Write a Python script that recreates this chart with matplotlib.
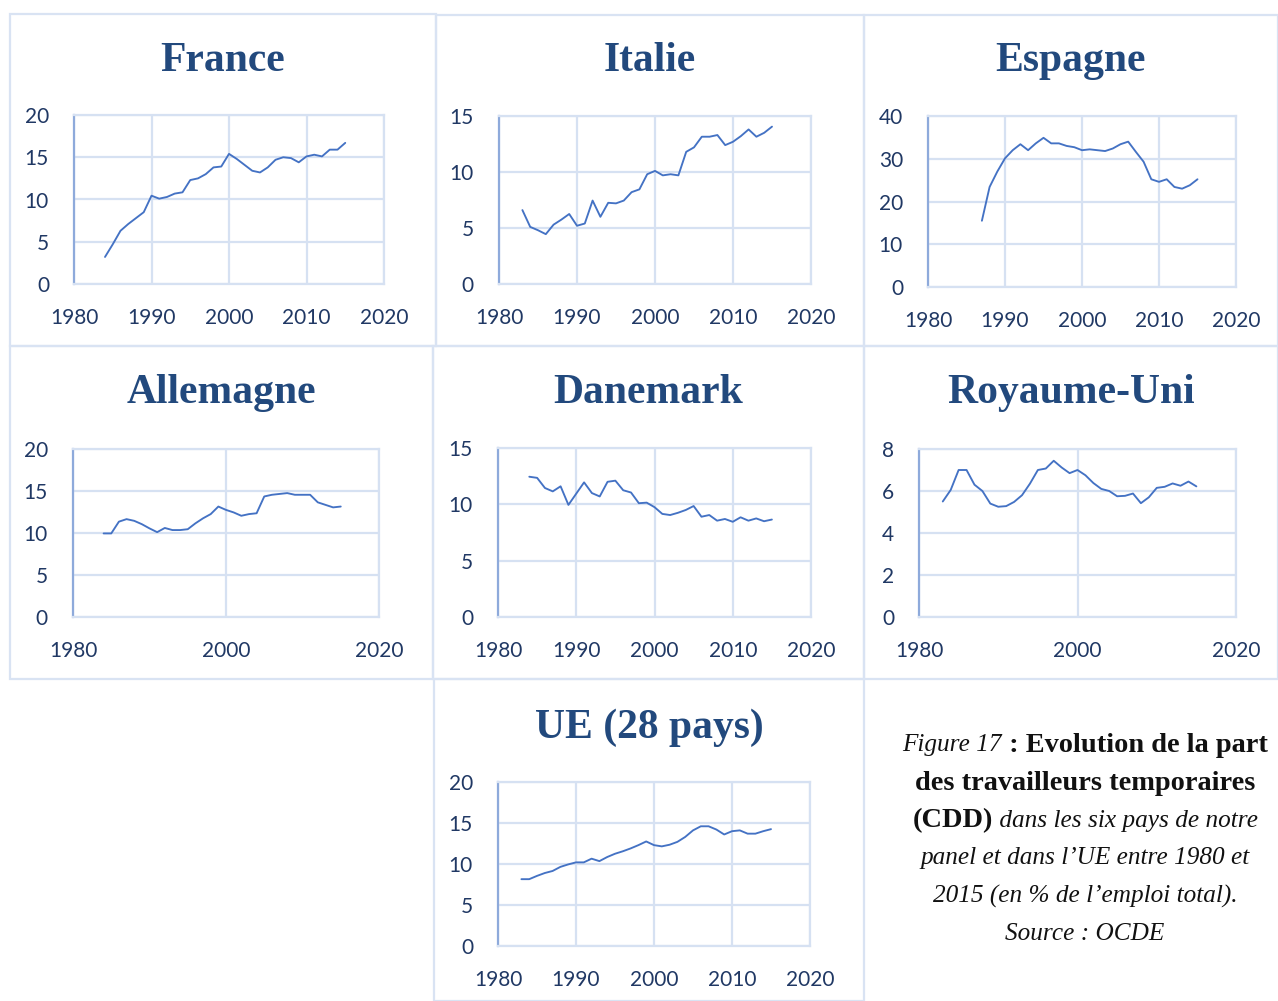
import matplotlib
matplotlib.use("Agg")
import matplotlib.pyplot as plt
from matplotlib.patches import Rectangle

W, H = 1278, 1001

# ---------------- data ----------------
france_years = list(range(1984, 2016))
france_vals = [3.2, 4.7, 6.3, 7.1, 7.8, 8.5, 10.45, 10.1, 10.3, 10.7, 10.85, 12.3, 12.5, 13.0,
               13.8, 13.9, 15.4, 14.8, 14.1, 13.4, 13.2, 13.8, 14.7, 15.0, 14.9, 14.4, 15.1,
               15.3, 15.1, 15.9, 15.9, 16.7]

italie_years = list(range(1983, 2016))
italie_vals = [6.6, 5.1, 4.8, 4.45, 5.3, 5.75, 6.25, 5.2, 5.4, 7.45, 6.0, 7.25, 7.2, 7.45, 8.2,
               8.45, 9.8, 10.1, 9.7, 9.8, 9.7, 11.8, 12.2, 13.15, 13.15, 13.3, 12.4, 12.7,
               13.2, 13.8, 13.15, 13.5, 14.05]

espagne_years = list(range(1987, 2016))
espagne_vals = [15.5, 23.4, 27.0, 30.1, 32.0, 33.4, 32.0, 33.6, 34.9, 33.6, 33.6, 33.0, 32.7,
                32.0, 32.2, 32.0, 31.8, 32.4, 33.4, 34.0, 31.6, 29.3, 25.2, 24.6, 25.2, 23.4,
                23.0, 23.8, 25.2]

allemagne_years = list(range(1984, 2016))
allemagne_vals = [9.95, 9.95, 11.35, 11.65, 11.45, 11.05, 10.55, 10.1, 10.6, 10.35, 10.35,
                  10.45, 11.15, 11.75, 12.25, 13.15, 12.75, 12.45, 12.05, 12.25, 12.35, 14.35,
                  14.55, 14.65, 14.75, 14.55, 14.55, 14.55, 13.65, 13.35, 13.05, 13.15]

danemark_years = list(range(1984, 2016))
danemark_vals = [12.45, 12.35, 11.45, 11.15, 11.6, 9.95, 10.95, 11.95, 11.0, 10.7, 12.0, 12.1,
                 11.25, 11.05, 10.1, 10.15, 9.75, 9.15, 9.05, 9.25, 9.5, 9.85, 8.9, 9.05, 8.55,
                 8.7, 8.45, 8.85, 8.55, 8.75, 8.5, 8.65]

ru_years = list(range(1983, 2016))
ru_vals = [5.5, 6.05, 7.0, 7.0, 6.3, 6.0, 5.4, 5.25, 5.28, 5.48, 5.8, 6.35, 7.0, 7.07, 7.44,
           7.12, 6.85, 7.0, 6.75, 6.38, 6.1, 6.0, 5.75, 5.77, 5.88, 5.42, 5.7, 6.15, 6.2,
           6.36, 6.25, 6.45, 6.22]

ue_years = list(range(1983, 2016))
ue_vals = [8.15, 8.15, 8.55, 8.9, 9.15, 9.65, 9.95, 10.2, 10.2, 10.65, 10.35, 10.85, 11.25,
           11.55, 11.9, 12.3, 12.75, 12.3, 12.15, 12.35, 12.7, 13.3, 14.1, 14.6, 14.6, 14.2,
           13.6, 14.0, 14.1, 13.7, 13.7, 14.0, 14.25]

titles = ["France", "Italie", "Espagne", "Allemagne", "Danemark", "Royaume-Uni", "UE (28 pays)"]
series_years = [france_years, italie_years, espagne_years, allemagne_years, danemark_years,
                ru_years, ue_years]
series_vals = [france_vals, italie_vals, espagne_vals, allemagne_vals, danemark_vals,
               ru_vals, ue_vals]
y_ticks = [[0, 5, 10, 15, 20], [0, 5, 10, 15], [0, 10, 20, 30, 40], [0, 5, 10, 15, 20],
           [0, 5, 10, 15], [0, 2, 4, 6, 8], [0, 5, 10, 15, 20]]
x_ticks = [[1980, 1990, 2000, 2010, 2020], [1980, 1990, 2000, 2010, 2020],
           [1980, 1990, 2000, 2010, 2020], [1980, 2000, 2020],
           [1980, 1990, 2000, 2010, 2020], [1980, 2000, 2020],
           [1980, 1990, 2000, 2010, 2020]]

# ---------------- layout (pixels) ----------------
panels = [(10, 14, 436, 346), (436, 15, 864, 346), (864, 15, 1278, 346),
          (10, 346, 433, 679), (433, 346, 864, 679), (864, 346, 1278, 679),
          (434, 679, 864, 1001)]
axes_px = [(74, 115, 384, 284), (499, 116, 811, 284), (928, 116, 1236, 287),
           (73, 449, 379, 617), (498, 448, 811, 617), (919, 449, 1236, 617),
           (498, 782, 810, 946)]
title_y = [61, 61, 61, 393, 393, 393, 728]

LINE = "#4472c4"
GRID = "#d6e1f2"
LEFT = "#8eaadb"
TXT = "#203864"
TITLE = "#22497d"
FRAME = "#d9e3f3"


def fx(x):
    return x / W


def fy(y):
    return 1 - y / H


fig = plt.figure(figsize=(W / 100, H / 100), dpi=100)
fig.patch.set_facecolor("white")

for (x0, y0, x1, y1) in panels:
    fig.patches.append(Rectangle((fx(x0), fy(y1)), fx(x1) - fx(x0), fy(y0) - fy(y1),
                                 transform=fig.transFigure, fill=False,
                                 edgecolor=FRAME, linewidth=1.6, zorder=0))

for i in range(7):
    x0, y0, x1, y1 = axes_px[i]
    ax = fig.add_axes([fx(x0), fy(y1), fx(x1) - fx(x0), fy(y0) - fy(y1)])
    ax.plot(series_years[i], series_vals[i], color=LINE, lw=1.35, solid_joinstyle="round",
            solid_capstyle="round", zorder=3)
    ax.set_xlim(1980, 2020)
    ax.set_ylim(0, y_ticks[i][-1])
    ax.set_xticks(x_ticks[i])
    ax.set_yticks(y_ticks[i])
    ax.grid(True, color=GRID, lw=1.6, zorder=0)
    ax.set_axisbelow(True)
    for s in ["top", "right", "bottom"]:
        ax.spines[s].set_color(GRID)
        ax.spines[s].set_linewidth(1.6)
    ax.spines["left"].set_color(LEFT)
    ax.spines["left"].set_linewidth(1.6)
    ax.tick_params(length=0, labelsize=15, labelcolor=TXT)
    ax.tick_params(axis="x", pad=17)
    ax.tick_params(axis="y", pad=18)
    for lab in ax.get_xticklabels() + ax.get_yticklabels():
        lab.set_fontfamily("Lato")
    px0, py0, px1, py1 = panels[i]
    fig.text(fx((px0 + px1) / 2), fy(title_y[i]), titles[i], ha="center", va="center",
             fontsize=30, fontweight="bold", family="Liberation Serif", color=TITLE)

# ---------------- caption ----------------
cap_lines = [
    [("Figure 17", "italic", "normal"), (" : Evolution de la part", "normal", "bold")],
    [("des travailleurs temporaires", "normal", "bold")],
    [("(CDD)", "normal", "bold"), (" dans les six pays de notre", "italic", "normal")],
    [("panel et dans l\u2019UE entre 1980 et", "italic", "normal")],
    [("2015 (en % de l\u2019emploi total).", "italic", "normal")],
    [("Source : OCDE", "italic", "normal")],
]
cap_y = [745, 783, 821, 858, 896, 934]
cap_cx = 1085

renderer = fig.canvas.get_renderer()
for line, yy in zip(cap_lines, cap_y):
    texts = []
    for s, style, weight in line:
        size = 20.4 if weight == "bold" else 18.2
        t = fig.text(0, fy(yy), s, ha="left", va="center", fontsize=size,
                     family="Liberation Serif", style=style, weight=weight, color="#111111")
        texts.append(t)
    widths = [t.get_window_extent(renderer).width for t in texts]
    total = sum(widths)
    x = cap_cx - total / 2
    for t, w in zip(texts, widths):
        t.set_x(fx(x))
        x += w

fig.savefig("out.png", dpi=100, facecolor="white")
